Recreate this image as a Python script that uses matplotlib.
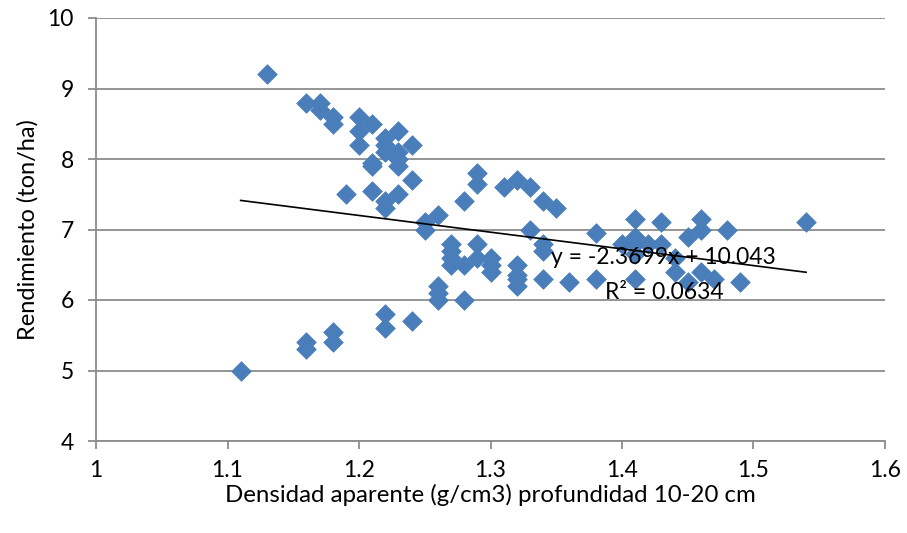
import numpy as np
import matplotlib
matplotlib.use("Agg")
import matplotlib.pyplot as plt

plt.rcParams['font.family'] = ['Lato', 'DejaVu Sans']

# densidad aparente (g/cm3) 10-20 cm vs rendimiento (ton/ha)
densidad = [1.11, 1.13, 1.16, 1.17, 1.17, 1.18, 1.18, 1.20, 1.21, 1.20,
            1.20, 1.22, 1.23, 1.22, 1.24, 1.22, 1.23, 1.23, 1.23, 1.21,
            1.21, 1.24, 1.19, 1.21, 1.23, 1.22, 1.22, 1.25, 1.25, 1.26,
            1.28, 1.29, 1.29, 1.31, 1.32, 1.33, 1.34, 1.35, 1.33, 1.27,
            1.27, 1.27, 1.27, 1.28, 1.29, 1.29, 1.30, 1.30, 1.30, 1.32,
            1.32, 1.32, 1.32, 1.34, 1.34, 1.34, 1.36, 1.38, 1.38, 1.40,
            1.41, 1.41, 1.41, 1.42, 1.43, 1.43, 1.41, 1.44, 1.44, 1.45,
            1.46, 1.46, 1.48, 1.54, 1.46, 1.47, 1.45, 1.49, 1.26, 1.26,
            1.26, 1.28, 1.24, 1.22, 1.22, 1.16, 1.16, 1.18, 1.18, 1.41]
rendimiento = [5.0, 9.2, 8.8, 8.8, 8.7, 8.6, 8.5, 8.6, 8.5, 8.4,
               8.2, 8.3, 8.4, 8.2, 8.2, 8.1, 8.1, 8.0, 7.9, 7.95,
               7.9, 7.7, 7.5, 7.55, 7.5, 7.4, 7.3, 7.1, 7.0, 7.2,
               7.4, 7.8, 7.65, 7.6, 7.7, 7.6, 7.4, 7.3, 7.0, 6.8,
               6.7, 6.6, 6.5, 6.5, 6.8, 6.6, 6.6, 6.5, 6.4, 6.5,
               6.35, 6.3, 6.2, 6.8, 6.7, 6.3, 6.25, 6.95, 6.3, 6.8,
               7.15, 6.9, 6.8, 6.8, 7.1, 6.8, 6.3, 6.6, 6.4, 6.9,
               7.15, 7.0, 7.0, 7.1, 6.4, 6.3, 6.25, 6.25, 6.2, 6.1,
               6.0, 6.0, 5.7, 5.8, 5.6, 5.4, 5.3, 5.55, 5.4, 6.65]

# trendline shown on the chart
pendiente = -2.3699
intercepto = 10.043
r2 = 0.0634

fig = plt.figure(figsize=(9.07, 5.33), dpi=100)
ax = fig.add_axes([96/907, 1 - 441/533, (885-96)/907, (441-18)/533])

ax.scatter(densidad, rendimiento, marker='D', s=100, color='#4A7EBB',
           edgecolors='#4A7EBB', linewidths=0.5, zorder=3)

xt = np.array([min(densidad), max(densidad)])
ax.plot(xt, pendiente*xt + intercepto, color='black', lw=1.2, zorder=4)

ax.text(1.346, 6.60, 'y = -2.3699x + 10.043', fontsize=16.5, va='center', zorder=5)
ax.text(1.387, 6.11, 'R² = 0.0634', fontsize=16.5, va='center', zorder=5)

ax.set_xlim(1, 1.6)
ax.set_ylim(4, 10)
ax.set_xticks([1, 1.1, 1.2, 1.3, 1.4, 1.5, 1.6])
ax.set_xticklabels(['1', '1.1', '1.2', '1.3', '1.4', '1.5', '1.6'])
ax.set_yticks(range(4, 11))

ax.yaxis.grid(True, color='#8c8c8c', lw=1.3)
ax.set_axisbelow(True)
for s in ['top', 'right']:
    ax.spines[s].set_visible(False)
for s in ['left', 'bottom']:
    ax.spines[s].set_color('#8c8c8c')
    ax.spines[s].set_linewidth(1.3)
ax.tick_params(axis='both', colors='#8c8c8c', labelcolor='black', labelsize=16.5,
               length=6, width=1.3)
ax.tick_params(axis='y', pad=10)
ax.tick_params(axis='x', pad=8)

ax.set_xlabel('Densidad aparente (g/cm3) profundidad 10-20 cm', fontsize=17.3, labelpad=2)
ax.set_ylabel('Rendimiento (ton/ha)', fontsize=17, labelpad=6)

fig.savefig('out.png', dpi=100)
